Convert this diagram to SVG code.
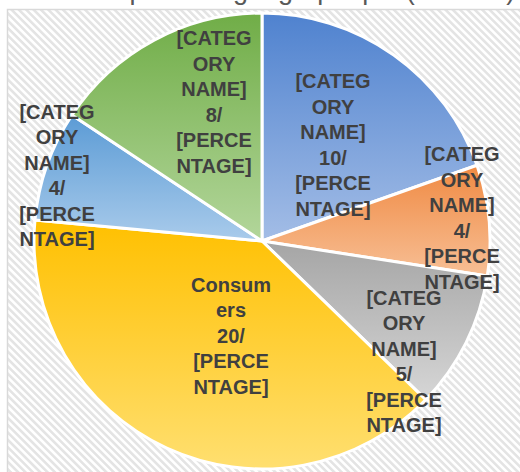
<svg xmlns="http://www.w3.org/2000/svg" width="520" height="472" viewBox="0 0 520 472">
<defs>
<pattern id="hatch" patternUnits="userSpaceOnUse" width="5.2" height="5.2" patternTransform="rotate(-45)">
<rect x="0" y="0" width="5.2" height="5.2" fill="#ffffff"/>
<rect x="0" y="0" width="2.6" height="5.2" fill="#e4e4e4"/>
</pattern>
<linearGradient id="gBlue" x1="0" y1="0" x2="0" y2="1"><stop offset="0" stop-color="#4f82cf"/><stop offset="1" stop-color="#a3bde6"/></linearGradient>
<linearGradient id="gOrange" x1="0" y1="0" x2="0" y2="1"><stop offset="0" stop-color="#f08a43"/><stop offset="1" stop-color="#f7bf95"/></linearGradient>
<linearGradient id="gGray" x1="0" y1="0" x2="0" y2="1"><stop offset="0" stop-color="#a5a5a5"/><stop offset="1" stop-color="#d6d6d6"/></linearGradient>
<linearGradient id="gYellow" x1="0" y1="0" x2="0" y2="1"><stop offset="0" stop-color="#ffc000"/><stop offset="1" stop-color="#ffdf70"/></linearGradient>
<linearGradient id="gLBlue" x1="0" y1="0" x2="0" y2="1"><stop offset="0" stop-color="#5b9bd5"/><stop offset="1" stop-color="#a9cbeb"/></linearGradient>
<linearGradient id="gGreen" x1="0" y1="0" x2="0" y2="1"><stop offset="0" stop-color="#70ad47"/><stop offset="1" stop-color="#b3d69b"/></linearGradient>
</defs>
<style>
.slice{stroke:#ffffff;stroke-width:3;stroke-linejoin:round}
.lbl{font-family:"Liberation Sans",Arial,sans-serif;font-weight:bold;font-size:20px;fill:#404040;text-anchor:middle}
.title{font-family:"Liberation Sans",Arial,sans-serif;font-size:27px;fill:#595959}
</style>
<rect x="0" y="0" width="520" height="472" fill="#ffffff"/>
<text class="title" x="95" y="-1.5">Répartition géographique (nombre)</text>
<rect id="plot-area" x="7.5" y="9.5" width="600" height="600" fill="url(#hatch)" stroke="#d9d9d9" stroke-width="1.5"/>
<g id="pie">
<g id="slice-blue"><path class="slice" fill="url(#gBlue)" d="M262,241 L262,13 A228,228 0 0 1 477.02,165.22 Z"/></g>
<g id="slice-orange"><path class="slice" fill="url(#gOrange)" d="M262,241 L477.02,165.22 A228,228 0 0 1 487.30,275.97 Z"/></g>
<g id="slice-gray"><path class="slice" fill="url(#gGray)" d="M262,241 L487.30,275.97 A228,228 0 0 1 425.72,399.68 Z"/></g>
<g id="slice-yellow"><path class="slice" fill="url(#gYellow)" d="M262,241 L425.72,399.68 A228,228 0 0 1 34.97,219.96 Z"/></g>
<g id="slice-lightblue"><path class="slice" fill="url(#gLBlue)" d="M262,241 L34.97,219.96 A228,228 0 0 1 71.90,115.12 Z"/></g>
<g id="slice-green"><path class="slice" fill="url(#gGreen)" d="M262,241 L71.90,115.12 A228,228 0 0 1 262,13 Z"/></g>
</g>
<g id="labels">
<text class="lbl"><tspan x="333" y="88">[CATEG</tspan><tspan x="333" y="113.5">ORY</tspan><tspan x="333" y="139">NAME]</tspan><tspan x="333" y="164.5">10/</tspan><tspan x="333" y="190">[PERCE</tspan><tspan x="333" y="215.5">NTAGE]</tspan></text>
<text class="lbl"><tspan x="462" y="161">[CATEG</tspan><tspan x="462" y="186.5">ORY</tspan><tspan x="462" y="212">NAME]</tspan><tspan x="462" y="237.5">4/</tspan><tspan x="462" y="263">[PERCE</tspan><tspan x="462" y="288.5">NTAGE]</tspan></text>
<text class="lbl"><tspan x="404" y="304.5">[CATEG</tspan><tspan x="404" y="330">ORY</tspan><tspan x="404" y="355.5">NAME]</tspan><tspan x="404" y="381">5/</tspan><tspan x="404" y="406.5">[PERCE</tspan><tspan x="404" y="432">NTAGE]</tspan></text>
<text class="lbl"><tspan x="231" y="291.5">Consum</tspan><tspan x="231" y="317">ers</tspan><tspan x="231" y="342.5">20/</tspan><tspan x="231" y="368">[PERCE</tspan><tspan x="231" y="393.5">NTAGE]</tspan></text>
<text class="lbl"><tspan x="57" y="118.5">[CATEG</tspan><tspan x="57" y="144">ORY</tspan><tspan x="57" y="169.5">NAME]</tspan><tspan x="57" y="195">4/</tspan><tspan x="57" y="220.5">[PERCE</tspan><tspan x="57" y="246">NTAGE]</tspan></text>
<text class="lbl"><tspan x="214" y="45">[CATEG</tspan><tspan x="214" y="70.5">ORY</tspan><tspan x="214" y="96">NAME]</tspan><tspan x="214" y="121.5">8/</tspan><tspan x="214" y="147">[PERCE</tspan><tspan x="214" y="172.5">NTAGE]</tspan></text>
</g>
</svg>
